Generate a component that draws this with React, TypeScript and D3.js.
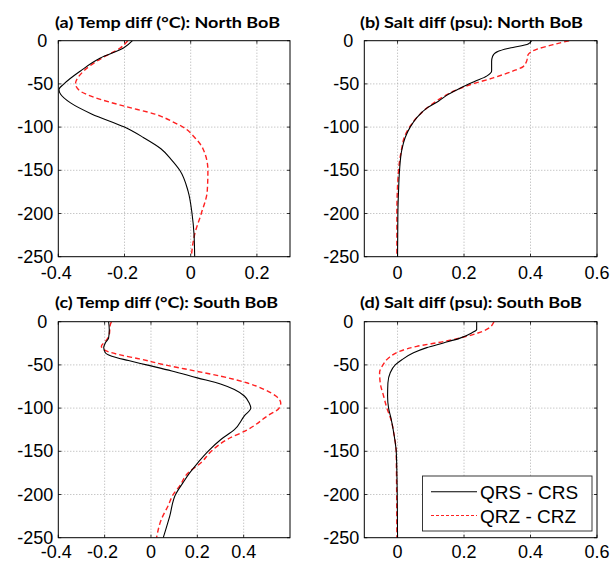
import React from "react";
import * as d3 from "d3";

// ---------- data (depth in m, values are differences) ----------
const yTicks = [0, -50, -100, -150, -200, -250];

// (a) Temp diff North BoB
const aBlackDepth = [0, -8.5, -20, -35, -50, -56.5, -62, -72, -85, -100, -112, -125, -137, -150, -174, -200, -224, -250];
const aBlackVal = [-0.176, -0.203, -0.273, -0.333, -0.383, -0.398, -0.393, -0.363, -0.298, -0.2, -0.143, -0.09, -0.06, -0.033, -0.008, 0.004, 0.01, 0.012];
const aRedDepth = [0, -8.5, -20, -35, -50, -58.5, -66, -76, -85, -95, -100, -112, -125, -150, -174, -200, -224, -249];
const aRedVal = [-0.19, -0.213, -0.268, -0.323, -0.348, -0.333, -0.288, -0.198, -0.108, -0.048, -0.023, 0.012, 0.037, 0.052, 0.05, 0.032, 0.012, 0.002];

// (b) Salt diff North BoB
const bBlackDepth = [0, -3.8, -8.5, -12.3, -18, -24, -31.5, -35, -41, -47, -55, -62, -70, -78, -89, -100, -112, -126, -150, -174, -200, -250];
const bBlackVal = [0.403, 0.393, 0.338, 0.303, 0.286, 0.283, 0.283, 0.283, 0.268, 0.233, 0.188, 0.153, 0.123, 0.088, 0.058, 0.038, 0.023, 0.013, 0.006, 0.003, 0.001, 0];
const bRedDepth = [0, -4.6, -10, -16, -24, -30, -35, -43, -51, -58.5, -66, -78, -89, -100, -112, -124, -150, -200, -250];
const bRedVal = [0.516, 0.468, 0.418, 0.393, 0.388, 0.378, 0.348, 0.288, 0.218, 0.168, 0.133, 0.088, 0.058, 0.036, 0.02, 0.013, 0.003, -0.002, -0.002];

// (c) Temp diff South BoB
const cBlackDepth = [0, -9, -19, -24.6, -30, -36, -40, -45, -50, -57, -65, -72, -78.5, -86, -94, -100, -109, -125, -136, -150, -163, -175, -186, -200, -225, -250];
const cBlackVal = [-0.183, -0.18, -0.183, -0.197, -0.204, -0.197, -0.169, -0.097, -0.019, 0.09, 0.2, 0.3, 0.36, 0.403, 0.424, 0.431, 0.403, 0.36, 0.303, 0.246, 0.203, 0.167, 0.139, 0.106, 0.081, 0.053];
const cRedDepth = [0, -4, -15, -23, -28.5, -33, -38, -43, -50, -57, -63, -71, -78.5, -86, -94, -100, -109, -125, -136, -150, -163, -175, -190, -200, -213, -228, -250];
const cRedVal = [-0.171, -0.176, -0.18, -0.197, -0.214, -0.2, -0.14, -0.05, 0.06, 0.19, 0.3, 0.417, 0.489, 0.539, 0.56, 0.553, 0.503, 0.417, 0.331, 0.26, 0.217, 0.16, 0.124, 0.096, 0.074, 0.046, 0.024];

// (d) Salt diff South BoB
const dBlackDepth = [0, -9, -13, -19, -24.6, -30, -36, -44, -50, -59, -71, -86, -100, -113, -132, -150, -175, -250];
const dBlackVal = [0.238, 0.238, 0.223, 0.188, 0.138, 0.088, 0.048, 0.013, -0.007, -0.022, -0.029, -0.03, -0.027, -0.019, -0.01, -0.004, -0.002, 0];
const dRedDepth = [0, -9, -17, -23, -28.5, -34, -42, -50, -59, -71, -86, -100, -113, -132, -150, -250];
const dRedVal = [0.29, 0.268, 0.208, 0.138, 0.058, 0.008, -0.027, -0.044, -0.054, -0.052, -0.042, -0.032, -0.02, -0.01, -0.004, -0.002];

const titles = [
  "(a)  Temp diff (°C): North BoB",
  "(b)  Salt diff (psu): North BoB",
  "(c)  Temp diff (°C): South BoB",
  "(d)  Salt diff (psu): South BoB",
];
const tempTicksA = [-0.4, -0.2, 0, 0.2];
const tempTicksC = [-0.4, -0.2, 0, 0.2, 0.4];
const saltTicks = [0, 0.2, 0.4, 0.6];
const legendLabels = ["QRS - CRS", "QRZ - CRZ"];

// ---------- layout ----------
const W = 611;
const H = 562;
const FONT = "'Liberation Sans', Arial, Helvetica, sans-serif";
const TITLE_FONT = "Lato, 'Open Sans', 'Liberation Sans', sans-serif";

type Panel = {
  title: string;
  x0: number; x1: number; y0: number; y1: number;
  xDomain: [number, number];
  xTicks: number[];
  black: [number[], number[]];
  red: [number[], number[]];
  titleX0: number; titleX1: number; titleY: number;
  xLabelOffset: number;
  legend?: boolean;
};

const panels: Panel[] = [
  { title: titles[0], x0: 58.3, x1: 290, y0: 40.7, y1: 256.7, xDomain: [-0.4, 0.3], xTicks: tempTicksA,
    black: [aBlackVal, aBlackDepth], red: [aRedVal, aRedDepth], titleX0: 55, titleX1: 280, titleY: 28, xLabelOffset: 22.5 },
  { title: titles[1], x0: 364.3, x1: 597, y0: 40.7, y1: 256.7, xDomain: [-0.1, 0.6], xTicks: saltTicks,
    black: [bBlackVal, bBlackDepth], red: [bRedVal, bRedDepth], titleX0: 360, titleX1: 583, titleY: 28, xLabelOffset: 22.5 },
  { title: titles[2], x0: 58.3, x1: 290, y0: 321.7, y1: 537.7, xDomain: [-0.4, 0.6], xTicks: tempTicksC,
    black: [cBlackVal, cBlackDepth], red: [cRedVal, cRedDepth], titleX0: 55, titleX1: 278, titleY: 307.5, xLabelOffset: 20 },
  { title: titles[3], x0: 364.3, x1: 597, y0: 321.7, y1: 537.7, xDomain: [-0.1, 0.6], xTicks: saltTicks,
    black: [dBlackVal, dBlackDepth], red: [dRedVal, dRedDepth], titleX0: 360, titleX1: 582, titleY: 307.5, xLabelOffset: 20, legend: true },
];

function fmt(v: number): string {
  return String(Math.round(v * 1000) / 1000);
}

function PanelView({ p }: { p: Panel }) {
  const x = d3.scaleLinear().domain(p.xDomain).range([p.x0, p.x1]);
  const y = d3.scaleLinear().domain([-250, 0]).range([p.y1, p.y0]);
  const line = d3
    .line<[number, number]>()
    .x((d) => x(d[0]))
    .y((d) => y(d[1]))
    .curve(d3.curveMonotoneY);
  const pts = (s: [number[], number[]]) => s[0].map((v, i) => [v, s[1][i]] as [number, number]);
  const eps = 1e-6;
  const interiorX = p.xTicks.filter((t) => t > p.xDomain[0] + eps && t < p.xDomain[1] - eps);
  const interiorY = yTicks.filter((t) => t > -250 + eps && t < -eps);
  const tl = 3;
  const clipId = `clip-${p.title.slice(1, 2)}`;
  return (
    <g>
      <defs>
        <clipPath id={clipId}>
          <rect x={p.x0} y={p.y0} width={p.x1 - p.x0} height={p.y1 - p.y0} />
        </clipPath>
      </defs>
      <rect x={p.x0} y={p.y0} width={p.x1 - p.x0} height={p.y1 - p.y0} fill="#fff" />
      {/* grid */}
      {interiorX.map((t) => (
        <line key={"gx" + t} x1={x(t)} x2={x(t)} y1={p.y0} y2={p.y1} stroke="#9a9a9a" strokeWidth={0.8} strokeDasharray="1,2" />
      ))}
      {interiorY.map((t) => (
        <line key={"gy" + t} x1={p.x0} x2={p.x1} y1={y(t)} y2={y(t)} stroke="#9a9a9a" strokeWidth={0.8} strokeDasharray="1,2" />
      ))}
      {/* ticks inside on all sides */}
      {p.xTicks.map((t) => (
        <g key={"tx" + t}>
          <line x1={x(t)} x2={x(t)} y1={p.y1} y2={p.y1 - tl} stroke="#000" strokeWidth={0.8} />
          <line x1={x(t)} x2={x(t)} y1={p.y0} y2={p.y0 + tl} stroke="#000" strokeWidth={0.8} />
        </g>
      ))}
      {yTicks.map((t) => (
        <g key={"ty" + t}>
          <line x1={p.x0} x2={p.x0 + tl} y1={y(t)} y2={y(t)} stroke="#000" strokeWidth={0.8} />
          <line x1={p.x1} x2={p.x1 - tl} y1={y(t)} y2={y(t)} stroke="#000" strokeWidth={0.8} />
        </g>
      ))}
      {/* curves */}
      <g clipPath={`url(#${clipId})`}>
        <path d={line(pts(p.red)) || ""} fill="none" stroke="#ff2020" strokeWidth={1.4} strokeDasharray="5,3" />
        <path d={line(pts(p.black)) || ""} fill="none" stroke="#000" strokeWidth={1.1} />
      </g>
      {/* frame */}
      <rect x={p.x0} y={p.y0} width={p.x1 - p.x0} height={p.y1 - p.y0} fill="none" stroke="#000" strokeWidth={1} />
      {/* tick labels */}
      {yTicks.map((t) => (
        <text key={"ly" + t} x={p.x0 - 5 - (t === 0 ? 6 : 0)} y={y(t)} dy="0.34em" textAnchor="end"
          fontFamily={FONT} fontSize={18} fill="#000">
          {fmt(t)}
        </text>
      ))}
      {p.xTicks.map((t) => (
        <text key={"lx" + t} x={x(t) - (t < 0 ? 2 : 0)} y={p.y1 + p.xLabelOffset} textAnchor="middle"
          fontFamily={FONT} fontSize={18} fill="#000">
          {fmt(t)}
        </text>
      ))}
      {/* title */}
      <text x={p.titleX0} y={p.titleY} textLength={p.titleX1 - p.titleX0} lengthAdjust="spacingAndGlyphs"
        fontFamily={TITLE_FONT} fontWeight="bold" fontSize={16} fill="#000">
        {p.title}
      </text>
      {p.legend && (
        <g>
          <rect x={422.5} y={476} width={169.5} height={55} fill="#fff" stroke="#222" strokeWidth={0.9} />
          <line x1={431} x2={477} y1={491.7} y2={491.7} stroke="#000" strokeWidth={1.1} />
          <line x1={431} x2={477} y1={515.5} y2={515.5} stroke="#ff2020" strokeWidth={1.1} strokeDasharray="3,2" />
          <text x={480} y={498.5} fontFamily={FONT} fontSize={19} fill="#000">{legendLabels[0]}</text>
          <text x={480} y={522.5} fontFamily={FONT} fontSize={19} fill="#000">{legendLabels[1]}</text>
        </g>
      )}
    </g>
  );
}

export default function App() {
  return (
    <svg width={W} height={H} viewBox={`0 0 ${W} ${H}`}
      style={{ position: "absolute", left: 0, top: 0, background: "#fff" }}>
      <rect x={0} y={0} width={W} height={H} fill="#fff" />
      {panels.map((p, i) => (
        <PanelView key={i} p={p} />
      ))}
    </svg>
  );
}
